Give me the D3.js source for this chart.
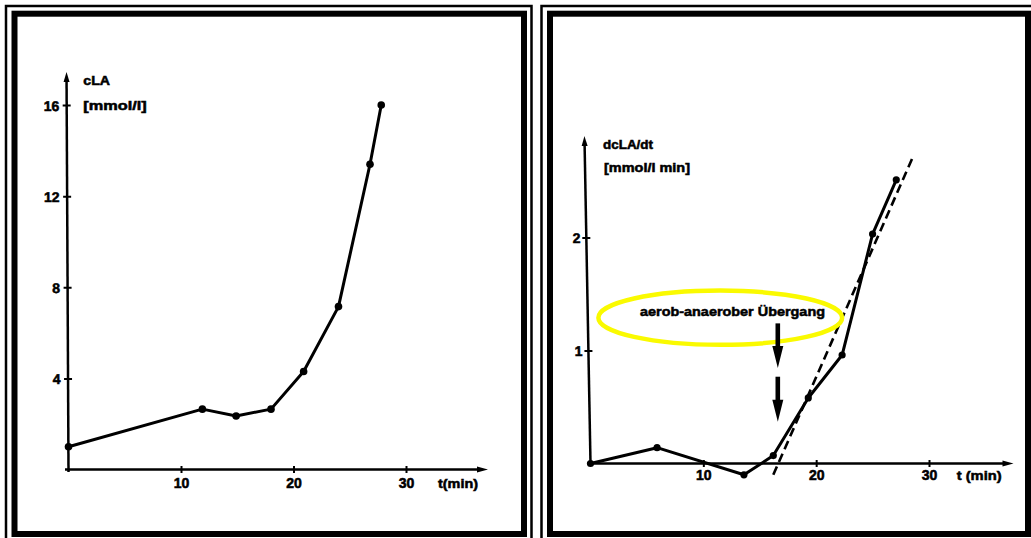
<!DOCTYPE html>
<html><head><meta charset="utf-8">
<script src="https://cdn.jsdelivr.net/npm/d3@7"></script>
<style>
html,body{margin:0;padding:0;background:#fff;}
svg{display:block;}
text{font-family:"Liberation Sans",Arial,sans-serif;font-weight:bold;fill:#000;stroke:#000;stroke-width:0.55px;}
</style></head><body>
<svg id="chart" width="1031" height="538"></svg>
<script>
// Blood lactate concentration over time (incremental test)
const timeLA = [0, 11.9, 14.9, 18, 20.9, 24, 26.8, 27.8];
const cLA    = [1.0, 2.65, 2.35, 2.65, 4.3, 7.15, 13.4, 16.0];

// Rate of change of lactate concentration
const timeRate = [0, 5.9, 13.6, 16.2, 19.3, 22.3, 25.0, 27.1];
const dcLAdt   = [0, 0.14, -0.1, 0.07, 0.58, 0.96, 2.03, 2.51];

// Straight line fitted to the steep section
const trendTime = [16.2, 28.6];
const trendRate = [-0.1, 2.72];

// Transition marker
const thresholdTime = 16.6;
const thresholdLabel = "aerob-anaerober  Übergang";

// Ticks
const timeTicks = [10, 20, 30];
const cLATicks  = [4, 8, 12, 16];
const rateTicks = [1, 2];

const svg = d3.select("#chart");

// ---------- frames ----------
function frame(x0, x1thin, x1thick) {
  svg.append("rect").attr("x", x0).attr("y", 6).attr("width", x1thin - x0).attr("height", 540)
    .attr("fill", "none").attr("stroke", "#000").attr("stroke-width", 2.5);
  svg.append("rect").attr("x", x0 + 8.5).attr("y", 13.7).attr("width", x1thick - x0 - 8.5).attr("height", 520.3)
    .attr("fill", "none").attr("stroke", "#000").attr("stroke-width", 6);
}
frame(6, 531.5, 524);
frame(541.5, 1045, 1028);

// ---------- helpers ----------
const LW_AXIS = 2.5, LW_DATA = 3;
const TICK_FONT = 14;

function yAxis(scale, ticks, x0, yBottom, yTop, pad, shear) {
  const g = svg.append("g")
    .attr("transform", `matrix(1,0,${shear},1,${x0 - shear * yBottom},0)`);
  g.call(d3.axisLeft(scale).tickValues(ticks).tickFormat(d3.format("d")).tickSizeOuter(0));
  g.select(".domain").remove();
  g.attr("font-size", TICK_FONT).attr("font-family", null);
  g.selectAll(".tick line").attr("x1", -4).attr("x2", 4).attr("stroke", "#000").attr("stroke-width", 2);
  g.selectAll(".tick text").attr("x", -pad).attr("dy", "0.36em");
  g.append("line").attr("x1", 0).attr("x2", 0).attr("y1", yBottom + 2.5).attr("y2", yTop + 6)
    .attr("stroke", "#000").attr("stroke-width", LW_AXIS);
  g.append("path").attr("d", `M0,${yTop} L-3,${yTop + 10} L3,${yTop + 10} Z`).attr("fill", "#000");
  return g;
}

function xAxis(scale, ticks, y0, xStart, xEnd, labelY) {
  const g = svg.append("g").attr("transform", `translate(0,${y0})`);
  g.call(d3.axisBottom(scale).tickValues(ticks).tickFormat(d3.format("d")).tickSizeOuter(0));
  g.select(".domain").remove();
  g.attr("font-size", TICK_FONT).attr("font-family", null);
  g.selectAll(".tick line").attr("y1", -3.5).attr("y2", 3.5).attr("stroke", "#000").attr("stroke-width", 2);
  g.selectAll(".tick text").attr("y", labelY).attr("dy", 0);
  g.append("line").attr("x1", xStart).attr("x2", xEnd - 6).attr("y1", 0).attr("y2", 0)
    .attr("stroke", "#000").attr("stroke-width", LW_AXIS);
  g.append("path").attr("d", `M${xEnd},0 L${xEnd - 11},-3 L${xEnd - 11},3 Z`).attr("fill", "#000");
  return g;
}

function series(xs, ys, xS, yS, r) {
  const pts = xs.map((t, i) => [t, ys[i]]);
  svg.append("path").datum(pts)
    .attr("d", d3.line().x(d => xS(d[0])).y(d => yS(d[1])))
    .attr("fill", "none").attr("stroke", "#000").attr("stroke-width", LW_DATA)
    .attr("stroke-linejoin", "round");
  svg.append("g").selectAll("circle").data(pts).join("circle")
    .attr("cx", d => xS(d[0])).attr("cy", d => yS(d[1])).attr("r", r).attr("fill", "#000");
}

function label(txt, x, y, len, size) {
  const t = svg.append("text").attr("x", x).attr("y", y).attr("font-size", size).text(txt);
  if (len) t.attr("textLength", len).attr("lengthAdjust", "spacingAndGlyphs");
  return t;
}

// ---------- left panel: cLA ----------
const xL = d3.scaleLinear().domain([0, 30]).range([68.5, 406]);
const yL = d3.scaleLinear().domain([0, 16]).range([469.5, 105]);

yAxis(yL, cLATicks, xL(0), yL(0), 72, 7.5, 0.005);
xAxis(xL, timeTicks, yL(0), 65, 488, 18.5);
series(timeLA, cLA, xL, yL, 3.8);

label("cLA", 83.3, 84.5, 26.7, 13);
label("[mmol/l]", 83.3, 109.5, 63.4, 13);
label("t(min)", 438, 488, 40, 13.5);

// ---------- right panel: dcLA/dt ----------
const xR = d3.scaleLinear().domain([0, 30]).range([590.5, 929]);
const yR = d3.scaleLinear().domain([0, 2]).range([463.5, 237.5]);

yAxis(yR, rateTicks, xR(0), yR(0), 136, 6, 0.0185);
xAxis(xR, timeTicks, yR(0), 587, 1013.5, 16.5);

// fitted line
svg.append("path").datum(trendTime.map((t, i) => [t, trendRate[i]]))
  .attr("d", d3.line().x(d => xR(d[0])).y(d => yR(d[1])))
  .attr("fill", "none").attr("stroke", "#000").attr("stroke-width", 2.6)
  .attr("stroke-dasharray", "9,5");

series(timeRate, dcLAdt, xR, yR, 3.6);

label("dcLA/dt", 603, 149, 50, 13);
label("[mmol/l min]", 604, 171.5, 86, 13);
label("t (min)", 956.7, 480, 45, 13.5);

// transition annotation
const ellipseCenter = [11.5, 1.29];
svg.append("ellipse")
  .attr("cx", xR(ellipseCenter[0])).attr("cy", yR(ellipseCenter[1]))
  .attr("rx", xR(ellipseCenter[0] + 10.8) - xR(ellipseCenter[0]))
  .attr("ry", yR(ellipseCenter[1] - 0.24) - yR(ellipseCenter[1]))
  .attr("fill", "none").attr("stroke", "#fafa00").attr("stroke-width", 4.5);

label(thresholdLabel, 640, 316, 185, 13.5);

// two downward arrows pointing at the transition
const ax = xR(thresholdTime);
const arrowSpans = [[1.24, 0.845], [0.768, 0.37]];
arrowSpans.forEach(([v0, v1]) => {
  const y0 = yR(v0), y1 = yR(v1), headLen = 22;
  svg.append("rect").attr("x", ax - 2.3).attr("y", y0).attr("width", 4.6).attr("height", y1 - y0 - headLen + 1)
    .attr("fill", "#000");
  svg.append("path").attr("d", `M${ax - 5.5},${y1 - headLen} L${ax + 5.5},${y1 - headLen} L${ax},${y1} Z`)
    .attr("fill", "#000");
});
</script>
</body></html>
